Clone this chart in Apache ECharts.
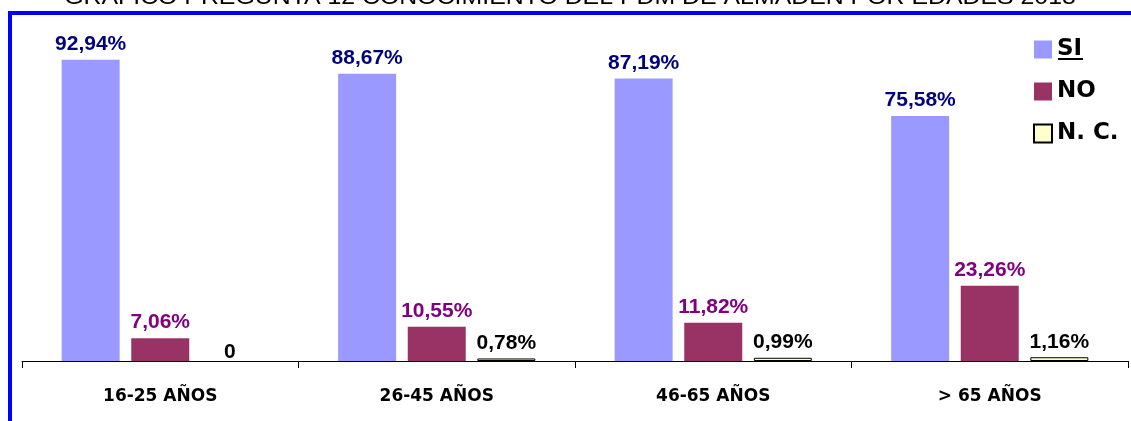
<!DOCTYPE html>
<html>
<head>
<meta charset="utf-8">
<script src="https://cdn.jsdelivr.net/npm/echarts@6/dist/echarts.min.js"></script>
<style>html,body{margin:0;padding:0;background:#fff}#c{width:1131px;height:421px}</style>
</head>
<body>
<div id="c"></div>
<script>
var categories = ['16-25 AÑOS', '26-45 AÑOS', '46-65 AÑOS', '> 65 AÑOS'];
var siValues = [92.94, 88.67, 87.19, 75.58];
var noValues = [7.06, 10.55, 11.82, 23.26];
var ncValues = [0, 0.78, 0.99, 1.16];
var seriesNames = ['SI', 'NO', 'N. C.'];
var titleText = 'GRÁFICO PREGUNTA 12 CONOCIMIENTO DEL PDM DE ALMADÉN POR EDADES 2013';

function fmt(v) {
  return v === 0 ? '0' : v.toFixed(2).replace('.', ',') + '%';
}
var font = '"Liberation Sans", Arial, sans-serif';
var wideFont = '"DejaVu Sans", sans-serif';
function lbl(color) {
  return {
    show: true, position: 'top', distance: 5,
    color: color, fontFamily: font, fontWeight: 'bold', fontSize: 21,
    formatter: function (p) { return fmt(p.value); }
  };
}
var chart = echarts.init(document.getElementById('c'), null, {renderer: 'canvas'});
chart.setOption({
  animation: false,
  grid: {left: 22, right: 3, top: 37, bottom: 60},
  legend: {
    orient: 'vertical', left: 1033, top: 38, padding: 0, itemWidth: 18, itemHeight: 18, itemGap: 19,
    icon: 'rect',
    textStyle: {fontFamily: wideFont, fontWeight: 'bold', fontSize: 23, lineHeight: 18, color: '#000'},
    data: seriesNames
  },
  xAxis: {
    type: 'category', data: categories,
    axisLine: {lineStyle: {color: '#000', width: 1}},
    axisTick: {show: true, length: 7, lineStyle: {color: '#000'}},
    axisLabel: {margin: 27, fontFamily: wideFont, fontWeight: 'bold', fontSize: 17, color: '#000'}
  },
  yAxis: {type: 'value', min: 0, max: 100, show: false, splitLine: {show: false}},
  series: [
    {name: seriesNames[0], type: 'bar', data: siValues, barWidth: 58, barGap: '20%',
     itemStyle: {color: '#9999FF'}, label: lbl('#000080')},
    {name: seriesNames[1], type: 'bar', data: noValues, barWidth: 58, barGap: '20%',
     itemStyle: {color: '#993366'}, label: lbl('#800080')},
    {name: seriesNames[2], type: 'bar', barWidth: 58, barGap: '20%',
     data: ncValues.map(function (v) {
       return v === 0 ? {value: v, itemStyle: {borderWidth: 0}, label: {distance: -2}} : v;
     }),
     itemStyle: {color: '#FFFFCC', borderColor: '#000', borderWidth: 1}, label: lbl('#000')}
  ],
  graphic: [
    {type: 'text', x: 570, y: -13, scaleX: 1.13, z: 1,
     style: {text: titleText, textAlign: 'center', textVerticalAlign: 'top', font: '22px ' + font, fill: '#000'}},
    {type: 'rect', shape: {x: 8, y: 11, width: 1123, height: 4}, style: {fill: '#0000FF'}, z: 10},
    {type: 'rect', shape: {x: 8, y: 11, width: 4, height: 410}, style: {fill: '#0000FF'}, z: 10},
    {type: 'rect', shape: {x: 1058, y: 58, width: 25, height: 2}, style: {fill: '#000'}, z: 10}
  ]
});
</script>
</body>
</html>
